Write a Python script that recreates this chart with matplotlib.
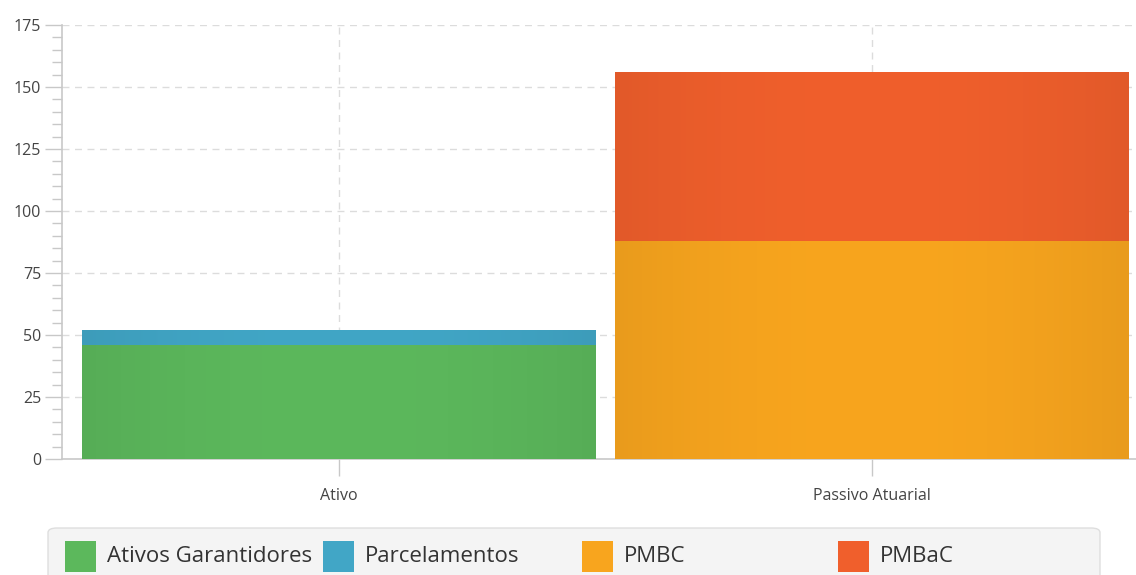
import numpy as np
import matplotlib.pyplot as plt
from matplotlib.patches import FancyBboxPatch, Rectangle
from matplotlib.colors import to_rgb
from matplotlib.ticker import MultipleLocator

plt.rcParams['font.family'] = ['Open Sans', 'DejaVu Sans']

# --- data ---
categories = ['Ativo', 'Passivo Atuarial']
series_names = ['Ativos Garantidores', 'Parcelamentos', 'PMBC', 'PMBaC']
ativos_garantidores = [46, 0]
parcelamentos = [6, 0]
pmbc = [0, 88]
pmbac = [0, 68]
colors = ['#5cb85c', '#41a6c6', '#f8a51e', '#f05f2c']

# --- helpers ---
def gradient_bar(ax, patch, color):
    'paint a soft horizontal gradient (darker edges) into a bar.'
    x0, y0 = patch.get_x(), patch.get_y()
    w, h = patch.get_width(), patch.get_height()
    if h <= 0:
        return
    t = np.linspace(-1, 1, 200)
    f = 1.0 - 0.06 * t ** 2
    base = np.array(to_rgb(color))
    img = np.clip(base[None, :] * f[:, None], 0, 1)[None, :, :]
    im = ax.imshow(img, extent=(x0, x0 + w, y0, y0 + h), aspect='auto',
                   interpolation='bilinear', zorder=3)
    im.set_clip_path(patch)


fig = plt.figure(figsize=(11.36, 5.75), dpi=100)
ax = fig.add_axes([62 / 1136, 116 / 575, 1 - 62 / 1136, 434 / 575])

x = np.arange(len(categories))
width = 0.9625
bottom = np.zeros(len(categories))
for name, vals, col in zip(series_names,
                           [ativos_garantidores, parcelamentos, pmbc, pmbac],
                           colors):
    bars = ax.bar(x, vals, width, bottom=bottom, color=col,
                  edgecolor='none', zorder=2, label=name)
    for p in bars:
        gradient_bar(ax, p, col)
    bottom += np.array(vals)

ax.set_xlim(-0.519, 1.495)
ax.set_ylim(0, 175)
ax.set_xticks(x)
ax.set_xticklabels(categories, fontsize=11.5, color='#444444')
ax.yaxis.set_major_locator(MultipleLocator(25))
ax.yaxis.set_minor_locator(MultipleLocator(5))

ax.tick_params(axis='y', which='major', length=12, width=1, color='#c8c8c8',
               labelsize=11.5, labelcolor='#444444', pad=3)
ax.tick_params(axis='y', which='minor', length=7, width=1, color='#c8c8c8')
ax.tick_params(axis='x', which='major', length=12, width=1, color='#c8c8c8',
               pad=9)

for s in ['top', 'right']:
    ax.spines[s].set_visible(False)
for s in ['left', 'bottom']:
    ax.spines[s].set_color('#c8c8c8')
    ax.spines[s].set_linewidth(1.2)

ax.grid(True, which='major', color='#dcdcdc', linestyle=(0, (5, 4)),
        linewidth=1, zorder=0)
ax.set_axisbelow(True)

# --- legend drawn by hand to match the box layout ---
W, H = 1136, 575
box = FancyBboxPatch((48 / W, -0.02), (1100 - 48) / W, (575 - 528) / H + 0.02,
                     boxstyle='round,pad=0,rounding_size=0.008',
                     transform=fig.transFigure, facecolor='#f4f4f4',
                     edgecolor='#dedede', linewidth=1)
fig.patches.append(box)
square_x = [65, 323, 582, 838]
for sx, name, col in zip(square_x, series_names, colors):
    fig.patches.append(Rectangle((sx / W, (575 - 572) / H), 31 / W, 31 / H,
                                 transform=fig.transFigure, facecolor=col,
                                 edgecolor='none'))
    fig.text((sx + 42) / W, (575 - 557) / H, name, fontsize=16,
             color='#333333', va='center', ha='left')

fig.savefig('out.png', dpi=100)
